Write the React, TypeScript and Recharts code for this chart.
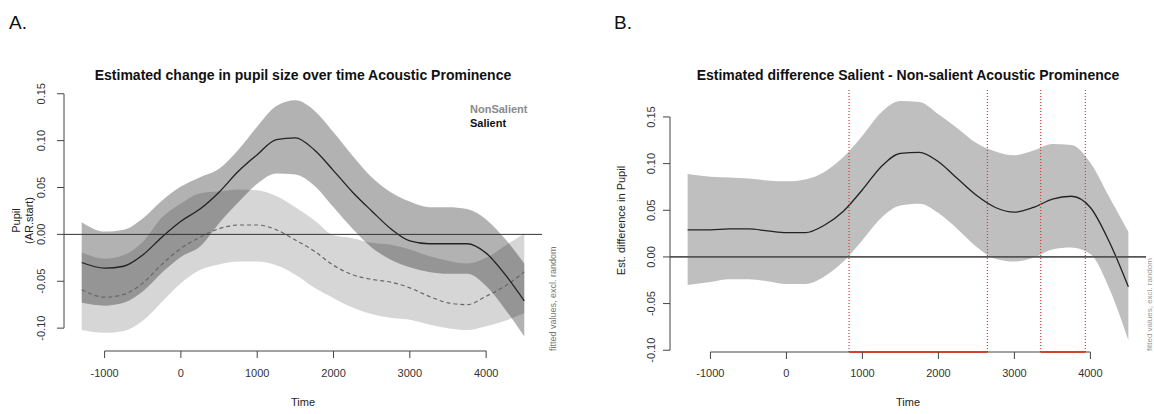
import React from "react";
import { ComposedChart, Area, Line, XAxis, YAxis, ReferenceLine } from "recharts";

// Panel A: fitted pupil size per condition (ms from onset)
const timesA = [-1300, -1000, -750, -500, -250, 0, 250, 500, 750, 1000, 1250, 1500, 1750, 2000, 2250, 2500, 2750, 3000, 3250, 3500, 3750, 4000, 4250, 4500];
const salientFit = [-0.03, -0.036, -0.034, -0.022, -0.003, 0.014, 0.027, 0.045, 0.067, 0.085, 0.101, 0.103, 0.09, 0.068, 0.045, 0.025, 0.006, -0.007, -0.01, -0.01, -0.01, -0.02, -0.043, -0.071];
const salientHi = [0.013, 0.003, 0.005, 0.017, 0.036, 0.051, 0.061, 0.07, 0.09, 0.115, 0.137, 0.143, 0.132, 0.109, 0.084, 0.061, 0.045, 0.035, 0.029, 0.029, 0.027, 0.016, -0.005, -0.031];
const salientLo = [-0.073, -0.076, -0.073, -0.061, -0.041, -0.024, -0.013, 0.012, 0.034, 0.054, 0.065, 0.064, 0.052, 0.029, 0.006, -0.014, -0.027, -0.035, -0.04, -0.042, -0.042, -0.055, -0.08, -0.109];
const nonSalientFit = [-0.059, -0.067, -0.064, -0.052, -0.032, -0.015, -0.003, 0.006, 0.01, 0.01, 0.005, -0.006, -0.018, -0.033, -0.043, -0.048, -0.051, -0.057, -0.066, -0.073, -0.075, -0.066, -0.055, -0.04];
const nonSalientHi = [-0.019, -0.026, -0.022, -0.008, 0.018, 0.033, 0.044, 0.046, 0.048, 0.047, 0.041, 0.029, 0.015, -0.001, -0.004, -0.009, -0.011, -0.016, -0.023, -0.028, -0.031, -0.025, -0.012, 0.001];
const nonSalientLo = [-0.102, -0.105, -0.103, -0.092, -0.072, -0.052, -0.038, -0.032, -0.029, -0.029, -0.033, -0.043, -0.057, -0.068, -0.078, -0.085, -0.089, -0.091, -0.096, -0.1, -0.102, -0.098, -0.092, -0.084];

// Panel B: difference curve Salient - NonSalient
const timesB = timesA;
const diffFit = [0.029, 0.029, 0.03, 0.03, 0.028, 0.026, 0.026, 0.034, 0.049, 0.072, 0.097, 0.111, 0.112, 0.102, 0.084, 0.066, 0.053, 0.048, 0.053, 0.062, 0.065, 0.053, 0.016, -0.032];
const diffHi = [0.089, 0.086, 0.085, 0.084, 0.082, 0.081, 0.083, 0.091, 0.107, 0.13, 0.155, 0.167, 0.166, 0.153, 0.138, 0.122, 0.113, 0.109, 0.114, 0.121, 0.12, 0.101, 0.064, 0.027];
const diffLo = [-0.03, -0.027, -0.024, -0.024, -0.026, -0.029, -0.029, -0.021, -0.005, 0.018, 0.042, 0.055, 0.057, 0.047, 0.03, 0.011, -0.002, -0.005, -0.001, 0.008, 0.01, 0.003, -0.034, -0.089];
const sigWindows = [
  [824, 2645],
  [3346, 3934],
];

const xTicks = [-1000, 0, 1000, 2000, 3000, 4000];
const yTicks = [-0.1, -0.05, 0, 0.05, 0.1, 0.15];

const xDomain = [-1532, 4732];
const yDomainA = [-0.1244, 0.154];
const yDomainB = [-0.1019, 0.1789];

const FONT = "'Liberation Sans', Arial, sans-serif";
const RED = "#d0432f";

const dataA = timesA.map((t, i) => ({
  t,
  sFit: salientFit[i],
  sBand: [salientLo[i], salientHi[i]],
  nFit: nonSalientFit[i],
  nBand: [nonSalientLo[i], nonSalientHi[i]],
}));

const dataB = timesB.map((t, i) => ({
  t,
  fit: diffFit[i],
  band: [diffLo[i], diffHi[i]],
}));

// tick labels sit at fixed offsets from the axis, like base R graphics
const xTick = (props: any) => (
  <text x={props.x} y={377} textAnchor="middle" fontSize={11} fill="#333" fontFamily={FONT}>
    {props.payload.value}
  </text>
);

const yTick = (labelX: number) => (props: any) => (
  <text
    transform={`translate(${labelX},${props.y}) rotate(-90)`}
    textAnchor="middle"
    dominantBaseline="central"
    fontSize={11}
    fill="#333"
    fontFamily={FONT}
  >
    {Number(props.payload.value).toFixed(2)}
  </text>
);

const axisProps = {
  axisLine: false,
  tickLine: { stroke: "#444" },
  tickSize: 7,
  interval: 0 as const,
  allowDataOverflow: true,
};

export default function App() {
  return (
    <div
      style={{
        position: "absolute",
        left: 0,
        top: 0,
        width: 1154,
        height: 414,
        background: "#fff",
        overflow: "hidden",
        fontFamily: FONT,
      }}
    >
      <div style={{ position: "absolute", left: 0, top: 0 }}>
        <ComposedChart width={580} height={414} data={dataA} margin={{ top: 90, right: 38, bottom: 23, left: 24 }}>
          <XAxis type="number" dataKey="t" domain={xDomain} ticks={xTicks} height={40} tick={xTick} {...axisProps} />
          <YAxis type="number" domain={yDomainA} ticks={yTicks} width={40} tick={yTick(41)} {...axisProps} />
          <Area dataKey="nBand" type="monotone" stroke="none" fill="#000" fillOpacity={0.16} isAnimationActive={false} activeDot={false} />
          <Area dataKey="sBand" type="monotone" stroke="none" fill="#000" fillOpacity={0.3} isAnimationActive={false} activeDot={false} />
          <Line dataKey="nFit" type="monotone" stroke="#666" strokeWidth={1.2} strokeDasharray="4 3" dot={false} isAnimationActive={false} />
          <Line dataKey="sFit" type="monotone" stroke="#222" strokeWidth={1.3} dot={false} isAnimationActive={false} />
          <ReferenceLine y={0} stroke="#333" strokeWidth={1} />
          <ReferenceLine
            segment={[{ x: -1000, y: yDomainA[0] }, { x: 4000, y: yDomainA[0] }]}
            stroke="#444"
            ifOverflow="visible"
          />
          <ReferenceLine
            segment={[{ x: xDomain[0], y: -0.1 }, { x: xDomain[0], y: 0.15 }]}
            stroke="#444"
            ifOverflow="visible"
          />
        </ComposedChart>
      </div>

      <div style={{ position: "absolute", left: 606, top: 0 }}>
        <ComposedChart width={548} height={414} data={dataB} margin={{ top: 90, right: 8, bottom: 22, left: 24 }}>
          <XAxis type="number" dataKey="t" domain={xDomain} ticks={xTicks} height={40} tick={xTick} {...axisProps} />
          <YAxis type="number" domain={yDomainB} ticks={yTicks} width={40} tick={yTick(45)} {...axisProps} />
          <Area dataKey="band" type="monotone" stroke="none" fill="#bfbfbf" fillOpacity={1} isAnimationActive={false} activeDot={false} />
          <Line dataKey="fit" type="monotone" stroke="#222" strokeWidth={1.3} dot={false} isAnimationActive={false} />
          <ReferenceLine y={0} stroke="#555" strokeWidth={1.6} />
          {sigWindows.flat().map((x) => (
            <ReferenceLine key={`v${x}`} x={x} stroke={RED} strokeWidth={1.2} strokeDasharray="1 2" />
          ))}
          <ReferenceLine
            segment={[{ x: -1000, y: yDomainB[0] }, { x: 4000, y: yDomainB[0] }]}
            stroke="#444"
            ifOverflow="visible"
          />
          {sigWindows.map(([a, b]) => (
            <ReferenceLine
              key={`s${a}`}
              segment={[{ x: a, y: yDomainB[0] }, { x: b, y: yDomainB[0] }]}
              stroke={RED}
              strokeWidth={2}
              ifOverflow="visible"
            />
          ))}
          <ReferenceLine
            segment={[{ x: xDomain[0], y: -0.1 }, { x: xDomain[0], y: 0.15 }]}
            stroke="#444"
            ifOverflow="visible"
          />
        </ComposedChart>
      </div>

      <svg
        width={1154}
        height={414}
        style={{ position: "absolute", left: 0, top: 0, pointerEvents: "none" }}
        fontFamily={FONT}
      >
        <text x={9} y={29} fontSize={19} fill="#111">A.</text>
        <text x={614} y={29} fontSize={19} fill="#111">B.</text>

        <text x={303} y={80} textAnchor="middle" fontSize={14} fontWeight="bold" fill="#111">
          Estimated change in pupil size over time Acoustic Prominence
        </text>
        <text x={908} y={80} textAnchor="middle" fontSize={14} fontWeight="bold" fill="#111">
          Estimated difference Salient - Non-salient Acoustic Prominence
        </text>

        <text x={470} y={113} fontSize={11} fontWeight="bold" fill="#8a8a8a">NonSalient</text>
        <text x={470} y={127} fontSize={11} fontWeight="bold" fill="#111">Salient</text>

        <text transform="translate(16,220.5) rotate(-90)" textAnchor="middle" dominantBaseline="central" fontSize={11} fill="#222">
          Pupil
        </text>
        <text transform="translate(28.5,220.5) rotate(-90)" textAnchor="middle" dominantBaseline="central" fontSize={11} fill="#222">
          (AR.start)
        </text>
        <text transform="translate(621,220.5) rotate(-90)" textAnchor="middle" dominantBaseline="central" fontSize={11} fill="#222">
          Est. difference in Pupil
        </text>

        <text x={303} y={406} textAnchor="middle" fontSize={11} fill="#222">Time</text>
        <text x={908} y={406} textAnchor="middle" fontSize={11} fill="#222">Time</text>

        <text transform="translate(553,351) rotate(-90)" dominantBaseline="central" fontSize={9} fill="#777">
          fitted values, excl. random
        </text>
        <text transform="translate(1149,351) rotate(-90)" dominantBaseline="central" fontSize={8} fill="#999">
          fitted values, excl. random
        </text>
      </svg>
    </div>
  );
}
